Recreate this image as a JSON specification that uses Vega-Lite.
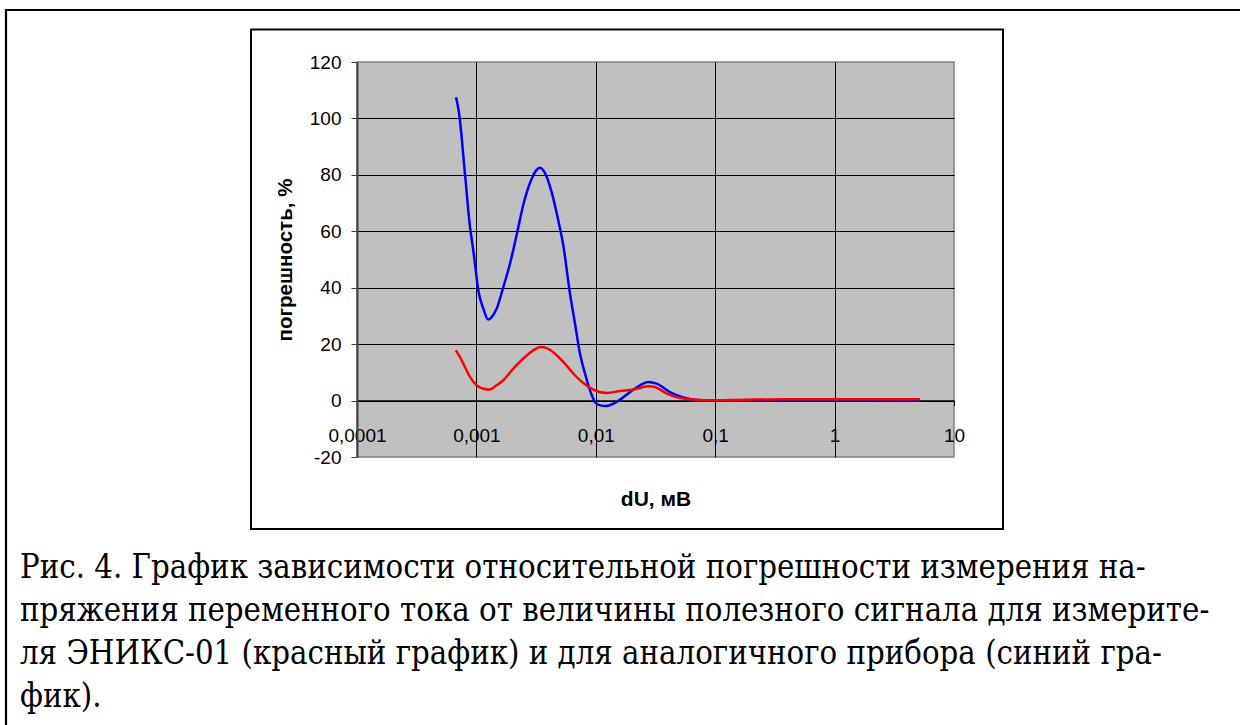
{
  "$schema": "https://vega.github.io/schema/vega-lite/v6.json",
  "width": 597,
  "height": 395,
  "autosize": {"type": "none"},
  "padding": {"left": 357, "top": 62, "right": 286, "bottom": 268},
  "background": "white",
  "config": {
    "view": {"fill": "#C0C0C0", "stroke": "#808080", "strokeWidth": 1.5}
  },
  "datasets": {
    "curves": [
      {"dU": 0.000675, "err": 107.5, "series": "аналог"},
      {"dU": 0.000714, "err": 102.2, "series": "аналог"},
      {"dU": 0.000802, "err": 80.4, "series": "аналог"},
      {"dU": 0.000884, "err": 61.5, "series": "аналог"},
      {"dU": 0.000942, "err": 53.2, "series": "аналог"},
      {"dU": 0.000973, "err": 48.5, "series": "аналог"},
      {"dU": 0.001038, "err": 39.0, "series": "аналог"},
      {"dU": 0.001143, "err": 32.6, "series": "аналог"},
      {"dU": 0.001258, "err": 28.7, "series": "аналог"},
      {"dU": 0.001343, "err": 29.6, "series": "аналог"},
      {"dU": 0.001479, "err": 32.6, "series": "аналог"},
      {"dU": 0.00168, "err": 40.2, "series": "аналог"},
      {"dU": 0.001911, "err": 48.5, "series": "аналог"},
      {"dU": 0.002175, "err": 58.8, "series": "аналог"},
      {"dU": 0.002471, "err": 69.4, "series": "аналог"},
      {"dU": 0.002904, "err": 78.6, "series": "аналог"},
      {"dU": 0.003157, "err": 81.5, "series": "аналог"},
      {"dU": 0.00341, "err": 82.5, "series": "аналог"},
      {"dU": 0.003754, "err": 80.6, "series": "аналог"},
      {"dU": 0.004272, "err": 73.8, "series": "аналог"},
      {"dU": 0.004852, "err": 63.8, "series": "аналог"},
      {"dU": 0.005342, "err": 55.0, "series": "аналог"},
      {"dU": 0.006081, "err": 37.9, "series": "аналог"},
      {"dU": 0.006694, "err": 27.3, "series": "аналог"},
      {"dU": 0.007373, "err": 16.6, "series": "аналог"},
      {"dU": 0.008118, "err": 9.6, "series": "аналог"},
      {"dU": 0.008942, "err": 3.6, "series": "аналог"},
      {"dU": 0.009847, "err": -0.5, "series": "аналог"},
      {"dU": 0.010844, "err": -1.7, "series": "аналог"},
      {"dU": 0.012341, "err": -1.9, "series": "аналог"},
      {"dU": 0.014962, "err": -0.5, "series": "аналог"},
      {"dU": 0.019336, "err": 3.0, "series": "аналог"},
      {"dU": 0.023453, "err": 5.4, "series": "аналог"},
      {"dU": 0.027416, "err": 6.6, "series": "аналог"},
      {"dU": 0.032363, "err": 6.0, "series": "аналог"},
      {"dU": 0.04182, "err": 3.0, "series": "аналог"},
      {"dU": 0.054045, "err": 1.1, "series": "аналог"},
      {"dU": 0.074593, "err": 0.1, "series": "аналог"},
      {"dU": 0.133, "err": 0.0, "series": "аналог"},
      {"dU": 0.513, "err": 0.2, "series": "аналог"},
      {"dU": 1.346, "err": 0.2, "series": "аналог"},
      {"dU": 5.19, "err": 0.0, "series": "аналог"},
      {"dU": 0.000671, "err": 17.8, "series": "ЭНИКС-01"},
      {"dU": 0.000729, "err": 15.4, "series": "ЭНИКС-01"},
      {"dU": 0.000802, "err": 11.9, "series": "ЭНИКС-01"},
      {"dU": 0.000884, "err": 8.4, "series": "ЭНИКС-01"},
      {"dU": 0.001006, "err": 5.4, "series": "ЭНИКС-01"},
      {"dU": 0.001143, "err": 4.2, "series": "ЭНИКС-01"},
      {"dU": 0.001282, "err": 3.9, "series": "ЭНИКС-01"},
      {"dU": 0.001479, "err": 5.4, "series": "ЭНИКС-01"},
      {"dU": 0.00168, "err": 7.2, "series": "ЭНИКС-01"},
      {"dU": 0.002037, "err": 11.3, "series": "ЭНИКС-01"},
      {"dU": 0.002471, "err": 14.9, "series": "ЭНИКС-01"},
      {"dU": 0.002996, "err": 17.8, "series": "ЭНИКС-01"},
      {"dU": 0.00341, "err": 19.0, "series": "ЭНИКС-01"},
      {"dU": 0.00388, "err": 18.6, "series": "ЭНИКС-01"},
      {"dU": 0.004552, "err": 16.6, "series": "ЭНИКС-01"},
      {"dU": 0.005342, "err": 13.7, "series": "ЭНИКС-01"},
      {"dU": 0.006481, "err": 9.6, "series": "ЭНИКС-01"},
      {"dU": 0.007857, "err": 6.2, "series": "ЭНИКС-01"},
      {"dU": 0.00953, "err": 3.9, "series": "ЭНИКС-01"},
      {"dU": 0.012341, "err": 2.7, "series": "ЭНИКС-01"},
      {"dU": 0.015947, "err": 3.4, "series": "ЭНИКС-01"},
      {"dU": 0.020617, "err": 3.9, "series": "ЭНИКС-01"},
      {"dU": 0.027416, "err": 5.1, "series": "ЭНИКС-01"},
      {"dU": 0.031311, "err": 4.8, "series": "ЭНИКС-01"},
      {"dU": 0.039256, "err": 2.5, "series": "ЭНИКС-01"},
      {"dU": 0.054045, "err": 0.7, "series": "ЭНИКС-01"},
      {"dU": 0.08488, "err": 0.1, "series": "ЭНИКС-01"},
      {"dU": 0.3719, "err": 0.5, "series": "ЭНИКС-01"},
      {"dU": 1.346, "err": 0.5, "series": "ЭНИКС-01"},
      {"dU": 5.19, "err": 0.5, "series": "ЭНИКС-01"}
    ]
  },
  "resolve": {"axis": {"x": "independent", "y": "independent"}},
  "layer": [
    {
      "data": {"values": [{}]},
      "mark": {"type": "rule", "stroke": "black", "strokeWidth": 2.2, "clip": false},
      "encoding": {
        "x": {"datum": 1.149e-7, "type": "quantitative", "scale": {"type": "log", "domain": [0.0001, 10]}, "axis": null},
        "x2": {"datum": 100000},
        "y": {"datum": 138.43, "type": "quantitative", "scale": {"domain": [-20, 120]}, "axis": null}
      }
    },
    {
      "data": {"values": [{}]},
      "mark": {"type": "rule", "stroke": "black", "strokeWidth": 2.2, "clip": false},
      "encoding": {
        "x": {"datum": 1.149e-7, "type": "quantitative", "axis": null},
        "y": {"datum": 138.8, "type": "quantitative", "axis": null},
        "y2": {"datum": -300}
      }
    },
    {
      "data": {"values": [{}]},
      "mark": {"type": "rect", "fill": "transparent", "stroke": "black", "strokeWidth": 2, "clip": false},
      "encoding": {
        "x": {"datum": 1.295e-5, "type": "quantitative", "axis": null},
        "x2": {"datum": 25.72},
        "y": {"datum": 131.52, "type": "quantitative", "axis": null},
        "y2": {"datum": -45.52}
      }
    },
    {
      "data": {"name": "curves"},
      "mark": {"type": "line", "interpolate": "monotone", "strokeWidth": 2.5},
      "encoding": {
        "x": {
          "field": "dU", "type": "quantitative",
          "scale": {"type": "log", "domain": [0.0001, 10]},
          "axis": {
            "title": "dU, мВ",
            "values": [0.0001, 0.001, 0.01, 0.1, 1, 10],
            "labelExpr": "replace(format(datum.value, '~g'), '.', ',')",
            "offset": -56.4,
            "domainColor": "#000000",
            "domainWidth": 1.5,
            "tickColor": "#000000",
            "tickSize": 5,
            "labelPadding": 21,
            "labelFont": "Liberation Sans",
            "labelFontSize": 19,
            "labelColor": "#000000",
            "labelOverlap": false,
            "labelFlush": false,
            "labelBound": false,
            "grid": true,
            "gridColor": "#000000",
            "gridWidth": 1,
            "gridOpacity": {"condition": {"test": "datum.value <= 0.0001 || datum.value >= 10", "value": 0}, "value": 1},
            "titleFont": "Liberation Sans",
            "titleFontSize": 21,
            "titleFontWeight": "bold",
            "titleColor": "#000000",
            "titlePadding": 43
          }
        },
        "y": {
          "field": "err", "type": "quantitative",
          "scale": {"domain": [-20, 120]},
          "axis": {
            "title": "погрешность, %",
            "values": [-20, 0, 20, 40, 60, 80, 100, 120],
            "labelExpr": "toString(datum.value)",
            "domainColor": "#404040",
            "domainWidth": 2,
            "tickColor": "#404040",
            "tickSize": 6,
            "labelPadding": 10,
            "labelFont": "Liberation Sans",
            "labelFontSize": 19,
            "labelColor": "#000000",
            "grid": true,
            "gridColor": "#000000",
            "gridWidth": 1,
            "gridOpacity": {"condition": {"test": "datum.value <= -20 || datum.value >= 120", "value": 0}, "value": 1},
            "titleFont": "Liberation Sans",
            "titleFontSize": 20.5,
            "titleFontWeight": "bold",
            "titleColor": "#000000",
            "titlePadding": 14
          }
        },
        "color": {
          "field": "series", "type": "nominal",
          "scale": {"domain": ["аналог", "ЭНИКС-01"], "range": ["#0000FF", "#FF0000"]},
          "legend": null
        },
        "order": {"field": "dU", "type": "quantitative"}
      }
    },
    {
      "data": {"values": [{}]},
      "mark": {"type": "text", "align": "left", "baseline": "alphabetic", "font": "DejaVu Serif Condensed", "fontSize": 32.6, "lineHeight": 43, "color": "#000000", "clip": false},
      "encoding": {
        "x": {"datum": 1.505e-7, "type": "quantitative", "axis": null},
        "y": {"datum": -62.9, "type": "quantitative", "axis": null},
        "text": {"value": ["Рис. 4. График зависимости относительной погрешности измерения на-", "пряжения переменного тока от величины полезного сигнала для измерите-", "ля ЭНИКС-01 (красный график) и для аналогичного прибора (синий гра-", "фик)."]}
      }
    }
  ]
}
